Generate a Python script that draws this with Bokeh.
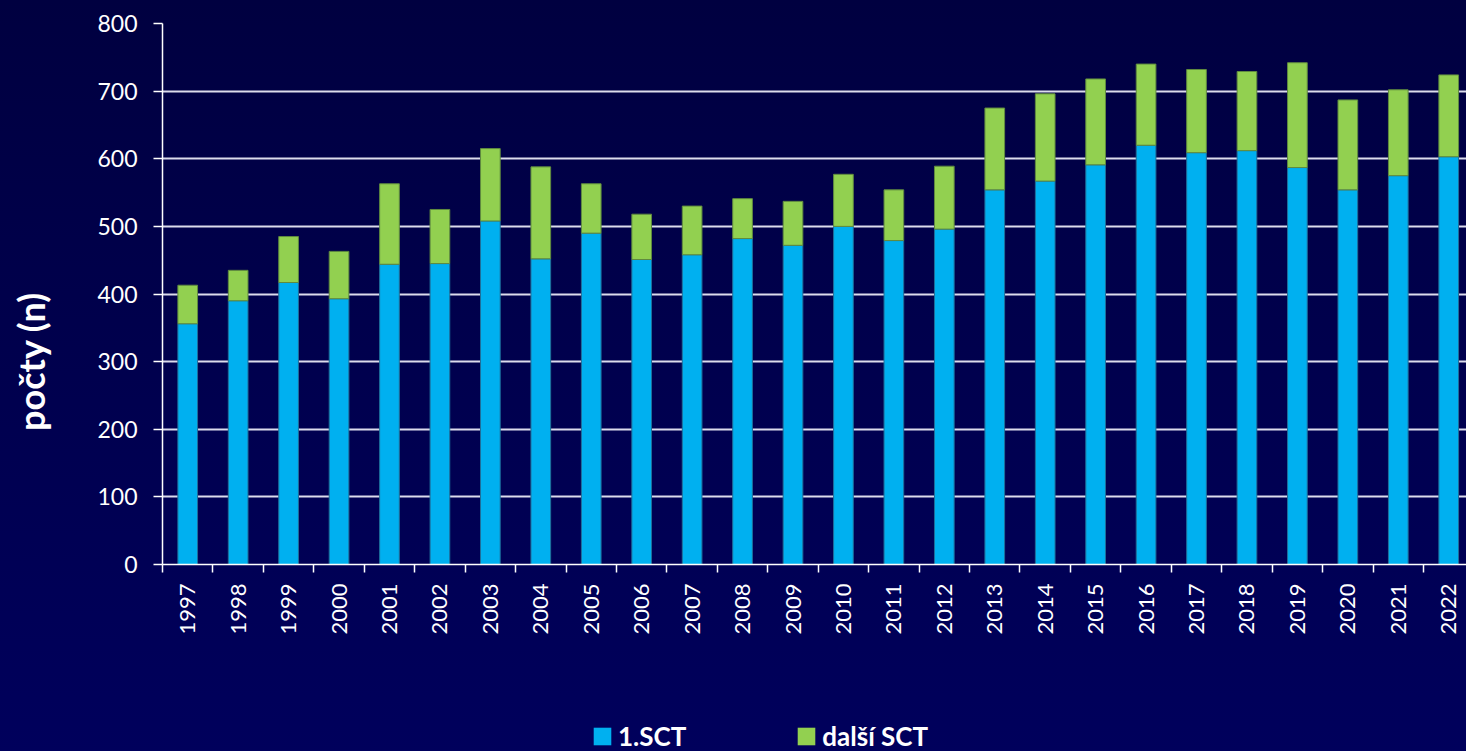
from math import pi
from bokeh.plotting import figure
from bokeh.layouts import row, column
from bokeh.models import (Range1d, FixedTicker, Legend, LegendItem, Label,
                          ColumnDataSource)
from bokeh.embed import file_html
from bokeh.resources import INLINE

# ---- data ----
years = [1997, 1998, 1999, 2000, 2001, 2002, 2003, 2004, 2005, 2006, 2007, 2008, 2009,
         2010, 2011, 2012, 2013, 2014, 2015, 2016, 2017, 2018, 2019, 2020, 2021, 2022]
first_sct = [356, 390, 417, 393, 444, 445, 508, 452, 490, 451, 458, 482, 472,
             500, 479, 496, 554, 567, 591, 620, 609, 612, 587, 554, 575, 603]
further_sct = [57, 45, 68, 70, 119, 80, 107, 136, 73, 67, 72, 59, 65,
               77, 75, 93, 121, 129, 127, 120, 123, 117, 155, 133, 127, 121]
series_names = ["1.SCT", "další SCT"]
y_ticks = [0, 100, 200, 300, 400, 500, 600, 700, 800]
y_title = "počty (n)"

colors = ["#00B0F0", "#92D050"]
edge_colors = ["#1f6f9a", "#5f8a3f"]

src = ColumnDataSource(dict(year=years, first=first_sct, further=further_sct))

W, H = 1466, 751
TITLE_W = 60          # strip on the left holding the y title
MAIN_H = 700          # main chart height; legend strip below
FRAME_LEFT = 162      # page x of the plot frame's left edge
LEFT, TOP, BOTTOM = FRAME_LEFT - TITLE_W, 23, MAIN_H - 564
cat_px = 50.44
main_w = W - TITLE_W


def bare(fig):
    fig.background_fill_color = None
    fig.border_fill_color = None
    fig.outline_line_color = None
    return fig


# ---- main chart ----
p = bare(figure(width=main_w, height=MAIN_H, output_backend="svg", toolbar_location=None,
                x_range=Range1d(years[0] - 0.5, years[0] - 0.5 + (main_w - LEFT) / cat_px),
                y_range=Range1d(0, 800),
                min_border_left=LEFT, min_border_right=0, min_border_top=TOP,
                min_border_bottom=BOTTOM))

p.vbar_stack(["first", "further"], x="year", width=0.39, source=src,
             fill_color=colors, line_color=edge_colors, line_width=1)

p.xgrid.grid_line_color = None
p.ygrid.grid_line_color = "#dcdcec"
p.ygrid.grid_line_width = 2
p.ygrid.ticker = FixedTicker(ticks=y_ticks)

ya = p.yaxis[0]
ya.ticker = FixedTicker(ticks=y_ticks)
ya.axis_line_color = "white"
ya.axis_line_width = 1.5
ya.major_tick_line_color = "white"
ya.major_tick_line_width = 1.5
ya.major_tick_in = 0
ya.major_tick_out = 9
ya.minor_tick_line_color = None
ya.major_label_standoff = 16
ya.major_label_text_color = "white"
ya.major_label_text_font = "Lato"
ya.major_label_text_font_size = "23px"

xa = p.xaxis[0]
xa.ticker = FixedTicker(ticks=years, minor_ticks=[y - 0.5 for y in years] + [years[-1] + 0.5])
xa.major_label_overrides = {y: str(y) for y in years}
xa.axis_line_color = "white"
xa.axis_line_width = 1.5
xa.major_tick_line_color = None
xa.major_tick_in = 0
xa.major_tick_out = 8
xa.minor_tick_line_color = "white"
xa.minor_tick_line_width = 1.5
xa.minor_tick_in = 0
xa.minor_tick_out = 8
xa.major_label_standoff = 11
xa.major_label_orientation = pi / 2
xa.major_label_text_color = "white"
xa.major_label_text_font = "Lato"
xa.major_label_text_font_size = "22px"

# ---- left strip with the y title (page pixel coordinates) ----
t = bare(figure(width=TITLE_W, height=H, output_backend="svg", toolbar_location=None,
                x_range=Range1d(0, TITLE_W), y_range=Range1d(H, 0),
                x_axis_type=None, y_axis_type=None, min_border=0))
t.grid.visible = False
t.add_layout(Label(x=30, y=361, text=y_title, angle=pi / 2, text_align="center",
                   text_baseline="middle", text_color="white", text_font="Lato",
                   text_font_style="bold", text_font_size="36px"))

# ---- legend strip below the chart (its frame lines up with the chart frame) ----
leg_h = H - MAIN_H
lf = bare(figure(width=main_w, height=leg_h, output_backend="svg", toolbar_location=None,
                 x_range=Range1d(0, 1), y_range=Range1d(0, 1),
                 x_axis_type=None, y_axis_type=None, min_border=0))
lf.grid.visible = False
# legend swatches: the real series, drawn outside this strip's visible range
r1 = lf.vbar(x="year", top="first", width=0.39, source=src,
             fill_color=colors[0], line_color=None)
r2 = lf.vbar(x="year", top="further", width=0.39, source=src,
             fill_color=colors[1], line_color=None)
legend = Legend(items=[LegendItem(label=series_names[0], renderers=[r1]),
                       LegendItem(label=series_names[1], renderers=[r2])],
                location=(591 - FRAME_LEFT, -1), orientation="horizontal",
                background_fill_alpha=0, border_line_alpha=0,
                label_text_color="white", label_text_font="Lato",
                label_text_font_style="bold", label_text_font_size="26px",
                glyph_width=22, glyph_height=22, label_standoff=5, spacing=109,
                padding=0, margin=0)
lf.add_layout(legend)

layout = row(t, column(p, lf, spacing=0), spacing=0)
layout.styles = {"background-image": "linear-gradient(#000040, #00005c)"}

open("out.html", "w").write(file_html(layout, INLINE))
